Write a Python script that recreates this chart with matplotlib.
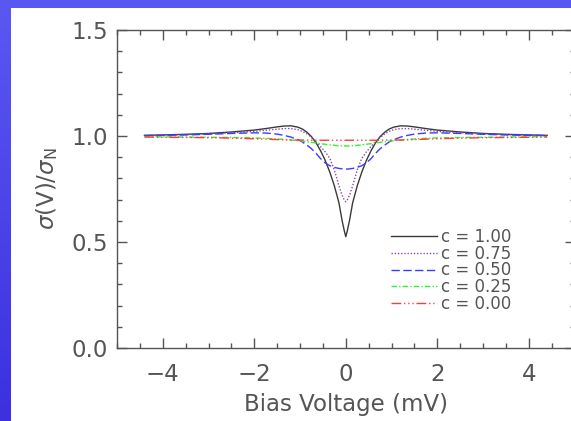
import numpy as np
import matplotlib
matplotlib.use("Agg")
import matplotlib.pyplot as plt
from matplotlib.patches import Rectangle
from matplotlib.ticker import MultipleLocator

# ---- data ----
bias = [-4.4, -4.0, -3.5, -3.0, -2.5, -2.0, -1.75, -1.5, -1.35, -1.2, -1.05, -0.95,
        -0.85, -0.75, -0.65, -0.55, -0.45, -0.35, -0.25, -0.15, -0.08, -0.03, 0.0,
        0.03, 0.08, 0.15, 0.25, 0.35, 0.45, 0.55, 0.65, 0.75, 0.85, 0.95, 1.05,
        1.2, 1.35, 1.5, 1.75, 2.0, 2.5, 3.0, 3.5, 4.0, 4.4]

c100 = [1.003, 1.005, 1.008, 1.012, 1.019, 1.028, 1.035, 1.043, 1.047, 1.048, 1.042, 1.033,
        1.018, 0.997, 0.968, 0.930, 0.885, 0.830, 0.765, 0.685, 0.600, 0.550, 0.525,
        0.550, 0.600, 0.685, 0.765, 0.830, 0.885, 0.930, 0.968, 0.997, 1.018, 1.033, 1.042,
        1.048, 1.047, 1.043, 1.035, 1.028, 1.019, 1.012, 1.008, 1.005, 1.003]
c075 = [1.002, 1.004, 1.006, 1.010, 1.015, 1.022, 1.027, 1.032, 1.035, 1.035, 1.030, 1.022,
        1.010, 0.993, 0.972, 0.950, 0.925, 0.895, 0.840, 0.765, 0.720, 0.697, 0.690,
        0.697, 0.720, 0.765, 0.840, 0.895, 0.925, 0.950, 0.972, 0.993, 1.010, 1.022, 1.030,
        1.035, 1.035, 1.032, 1.027, 1.022, 1.015, 1.010, 1.006, 1.004, 1.002]
c050 = [1.002, 1.003, 1.005, 1.008, 1.012, 1.015, 1.014, 1.009, 1.003, 0.995, 0.983, 0.972,
        0.957, 0.940, 0.918, 0.893, 0.873, 0.860, 0.852, 0.847, 0.845, 0.844, 0.844,
        0.844, 0.845, 0.847, 0.852, 0.860, 0.873, 0.893, 0.918, 0.940, 0.957, 0.972, 0.983,
        0.995, 1.003, 1.009, 1.014, 1.015, 1.012, 1.008, 1.005, 1.003, 1.002]
c025 = [0.997, 0.996, 0.995, 0.994, 0.993, 0.991, 0.989, 0.986, 0.984, 0.981, 0.978, 0.976,
        0.973, 0.970, 0.967, 0.964, 0.961, 0.958, 0.956, 0.954, 0.953, 0.953, 0.953,
        0.953, 0.953, 0.954, 0.956, 0.958, 0.961, 0.964, 0.967, 0.970, 0.973, 0.976, 0.978,
        0.981, 0.984, 0.986, 0.989, 0.991, 0.993, 0.994, 0.995, 0.996, 0.997]
c000 = [0.995, 0.994, 0.993, 0.992, 0.990, 0.987, 0.985, 0.983, 0.982, 0.981, 0.981, 0.981,
        0.981, 0.980, 0.980, 0.980, 0.980, 0.980, 0.980, 0.980, 0.980, 0.980, 0.980,
        0.980, 0.980, 0.980, 0.980, 0.980, 0.980, 0.980, 0.980, 0.980, 0.981, 0.981, 0.981,
        0.981, 0.982, 0.983, 0.985, 0.987, 0.990, 0.992, 0.993, 0.994, 0.995]

labels = ["c = 1.00", "c = 0.75", "c = 0.50", "c = 0.25", "c = 0.00"]
x_ticks = [-4, -2, 0, 2, 4]
x_ticklabels = ["\u22124", "\u22122", "0", "2", "4"]
y_ticks = [0.0, 0.5, 1.0, 1.5]
y_ticklabels = ["0.0", "0.5", "1.0", "1.5"]

# ---- styling ----
W, H = 571, 421
fig = plt.figure(figsize=(W / 100, H / 100), dpi=100)

# blue frame background
bg = fig.add_axes([0, 0, 1, 1], zorder=-10)
grad = np.linspace(0, 1, 256).reshape(-1, 1)
top_col = np.array([0x5a, 0x58, 0xf2]) / 255
bot_col = np.array([0x3c, 0x30, 0xe0]) / 255
img = top_col[None, None, :] * (1 - grad[:, :, None]) + bot_col[None, None, :] * grad[:, :, None]
bg.imshow(img, aspect="auto", extent=[0, 1, 0, 1], origin="upper")
bg.add_patch(Rectangle((10.5 / W, 0), 1, 1 - 7.5 / H, transform=bg.transAxes,
                       facecolor="white", edgecolor="none"))
bg.set_xlim(0, 1)
bg.set_ylim(0, 1)
bg.axis("off")

gray = "#555555"
left, right, top, bottom = 117, 574.6, 30, 348
ax = fig.add_axes([left / W, (H - bottom) / H, (right - left) / W, (bottom - top) / H])
ax.patch.set_alpha(0)

styles = [
    dict(color="#3a3a3a", ls="-"),
    dict(color="#8a4aa8", ls=(0, (1, 1.3))),
    dict(color="#3c3cff", ls=(0, (6, 2.5))),
    dict(color="#33ee33", ls=(0, (4, 1.5, 1, 1.5))),
    dict(color="#ff3c3c", ls=(0, (7, 2, 1, 2, 1, 2, 1, 2))),
]
for y, lab, st in zip([c100, c075, c050, c025, c000], labels, styles):
    ax.plot(bias, y, lw=1.0, label=lab, **st)

ax.set_xlim(-5, 5)
ax.set_ylim(0, 1.5)
ax.set_xticks(x_ticks)
ax.set_xticklabels(x_ticklabels)
ax.set_yticks(y_ticks)
ax.set_yticklabels(y_ticklabels)
ax.xaxis.set_minor_locator(MultipleLocator(0.5))
ax.yaxis.set_minor_locator(MultipleLocator(0.1))
ax.tick_params(which="both", direction="in", top=True, right=True, color=gray, width=1.0)
ax.tick_params(which="major", length=7)
ax.tick_params(which="minor", length=3.6)
ax.tick_params(axis="x", which="major", labelsize=16.5, labelcolor=gray, pad=10.5)
ax.tick_params(axis="y", which="major", labelsize=16.5, labelcolor=gray, pad=6.5)
for s in ax.spines.values():
    s.set_color(gray)
    s.set_linewidth(1.0)

ax.set_xlabel("Bias Voltage (mV)", fontsize=16.5, color=gray, labelpad=5)
ax.set_ylabel(r"$\sigma$(V)/$\sigma_{\mathregular{N}}$", fontsize=16.5, color=gray, labelpad=8)

leg = ax.legend(loc="upper left", bbox_to_anchor=(0.599, 0.377), frameon=False,
                fontsize=12, handlelength=2.75, handletextpad=0.24, labelspacing=-0.08,
                borderpad=0, borderaxespad=0)
for t in leg.get_texts():
    t.set_color(gray)

fig.savefig("out.png", dpi=100)
